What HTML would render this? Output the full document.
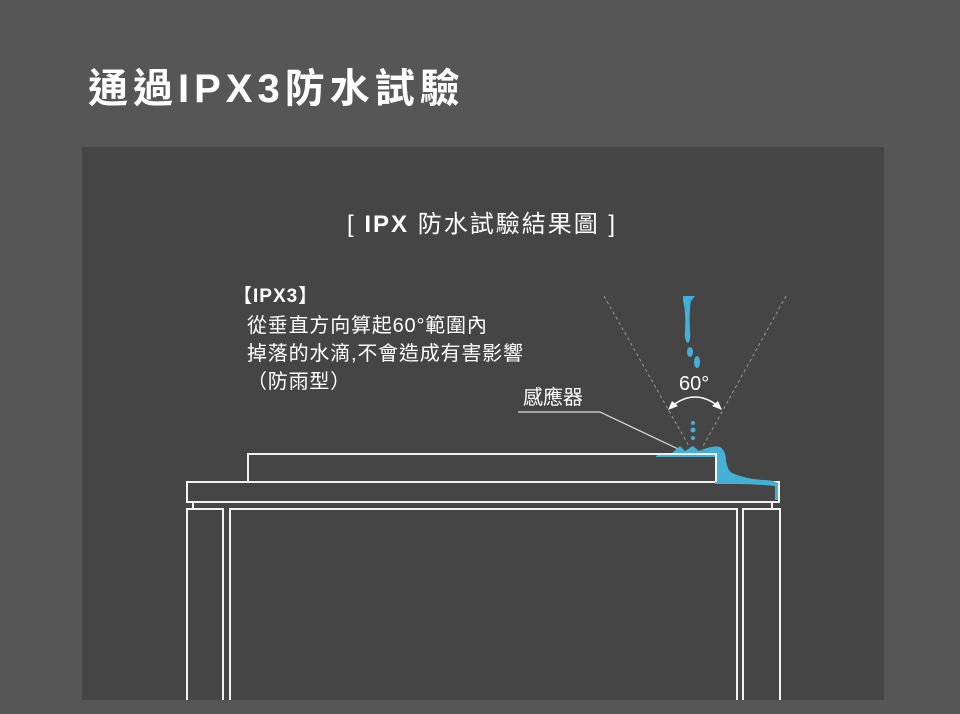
<!DOCTYPE html>
<html><head><meta charset="utf-8"><style>
body{margin:0;width:960px;height:714px;background:#565656;position:relative;overflow:hidden;font-family:"Liberation Sans","Noto Sans CJK TC",sans-serif;color:#fff}
.t{position:absolute;white-space:nowrap}
</style></head><body>
<div class="t" style="left:88px;top:64px;font-size:40px;font-weight:bold;letter-spacing:5px;line-height:50px">通過IPX3防水試驗</div>
<svg style="position:absolute;left:0;top:0" width="960" height="714">
<rect x="82" y="147" width="802" height="553" fill="#454545"/>
<g stroke="#f2f2f2" stroke-width="2" fill="none">
<rect x="248" y="454" width="468" height="28"/>
<rect x="187" y="482" width="592" height="20"/>
<path d="M187 700V509H223V700M230 700V509H737V700M743 700V509H780V700M193 502V509M772 502V509"/>
</g>
<g stroke="#9a9a9a" stroke-width="1" stroke-dasharray="3,3" fill="none">
<path d="M604 296L690 448M786 296L702 448"/>
</g>
<path d="M672 406Q695 388 718 406" stroke="#fff" stroke-width="1.5" fill="none"/>
<path d="M668 410l4-9 6 5z M722 410l-4-9-6 5z" fill="#fff"/>
<path d="M518 412H600L693 456" stroke="#ddd" stroke-width="1.2" fill="none"/>
<g fill="#45b0d6">
<path d="M683 296h12l-4 5q-2 10-1 30q1 10-2 12q-4-2-3-12q1-20-2-30z"/>
<ellipse cx="690" cy="352" rx="3" ry="5"/>
<ellipse cx="697" cy="362" rx="3" ry="6"/>
<circle cx="693" cy="423" r="2"/><circle cx="693" cy="430" r="2.5"/><circle cx="693" cy="438" r="2"/>
<path d="M656 456q4-3 16-3l8-7 5 5 8-5 6 5q14-6 21-4q6 4 6 14q2 10 6 12q14 6 30 7q14 0 16 4v16h-3v-14q-20 -2-40-2l-20 0v-27h-59z"/>
</g>
<g stroke="#f2f2f2" stroke-width="2" fill="none"><path d="M658 454H716V482"/></g>
</svg>
<div class="t" style="left:347px;top:211px;font-size:24px;line-height:28px;letter-spacing:2px"><span style="font-weight:300">[ </span><b>IPX</b> 防水試驗結果圖 <span>]</span></div>
<div class="t" style="left:233px;top:284px;font-size:19px;line-height:26px;letter-spacing:1px"><b>【IPX3】</b></div>
<div class="t" style="left:247px;top:312px;font-size:20px;line-height:28px;letter-spacing:0.8px">從垂直方向算起60°範圍內<br>掉落的水滴,不會造成有害影響<br>（防雨型）</div>
<div class="t" style="left:523px;top:386px;font-size:20px;line-height:24px">感應器</div>
<div class="t" style="left:679px;top:373px;font-size:20px;line-height:22px">60°</div>
</body></html>
